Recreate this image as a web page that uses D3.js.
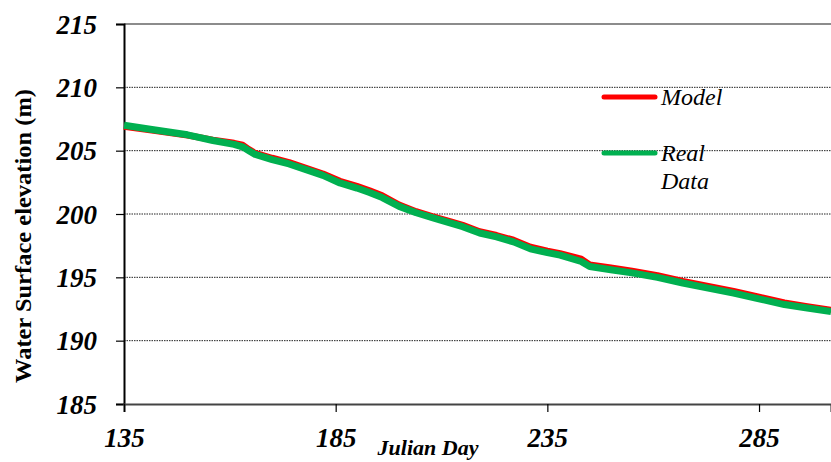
<!DOCTYPE html>
<html>
<head>
<meta charset="utf-8">
<script src="https://cdn.jsdelivr.net/npm/d3@7"></script>
<style>
  html, body { margin: 0; padding: 0; background: #fff; }
  svg { display: block; }
  svg text { font-family: 'Liberation Serif', 'Times New Roman', serif; }
</style>
</head>
<body>
<svg id="chart" width="831" height="462"></svg>
<script>
// Julian day sample points
const days = [135, 142, 150, 156, 161, 163, 164.5, 166, 170, 174, 178, 182, 186, 190, 193, 196, 200, 204, 208, 212, 215, 219, 223, 227, 231, 235, 238, 243, 245, 250, 255, 261, 267, 273, 279, 285, 291, 296, 302];
// Observed water surface elevation (m)
const realData = [207.0, 206.65, 206.25, 205.8, 205.5, 205.3, 205.0, 204.7, 204.3, 203.95, 203.5, 203.05, 202.45, 202.05, 201.7, 201.3, 200.6, 200.1, 199.7, 199.3, 199.0, 198.5, 198.2, 197.8, 197.25, 196.95, 196.75, 196.25, 195.85, 195.6, 195.35, 195.0, 194.55, 194.15, 193.75, 193.3, 192.85, 192.6, 192.3];
// Simulated water surface elevation (m)
const modelData = [206.9, 206.58, 206.22, 205.85, 205.6, 205.45, 205.1, 204.8, 204.42, 204.08, 203.62, 203.18, 202.6, 202.2, 201.85, 201.45, 200.72, 200.2, 199.8, 199.42, 199.12, 198.62, 198.32, 197.95, 197.4, 197.08, 196.88, 196.45, 196.0, 195.75, 195.5, 195.15, 194.7, 194.3, 193.9, 193.45, 193.0, 192.72, 192.42];
const xTicks = [135, 185, 235, 285];
const yTicks = [185, 190, 195, 200, 205, 210, 215];
const seriesNames = ["Model", "Real Data"];

const SERIF = "'Liberation Serif', 'Times New Roman', serif";
const svg = d3.select("#chart");
const plotLeft = 124, plotRight = 831, plotTop = 24, plotBottom = 404;

const x = d3.scaleLinear().domain([135, 302]).range([plotLeft, plotRight]);
const y = d3.scaleLinear().domain([185, 215]).range([plotBottom, plotTop]);

const tickFont = sel => sel
  .attr("fill", "#000")
  .style("font-family", SERIF)
  .style("font-size", "27px").style("font-weight", "bold").style("font-style", "italic");

// Dotted horizontal gridlines
svg.append("g")
  .selectAll("line")
  .data(yTicks.filter(v => v > 185 && v < 215))
  .join("line")
  .attr("x1", plotLeft).attr("x2", plotRight)
  .attr("y1", d => y(d)).attr("y2", d => y(d))
  .attr("stroke", "#222").attr("stroke-width", 1)
  .attr("stroke-dasharray", "1.5,1");

// Top border
svg.append("line")
  .attr("x1", plotLeft).attr("x2", plotRight)
  .attr("y1", plotTop).attr("y2", plotTop)
  .attr("stroke", "#8c8c8c").attr("stroke-width", 2);

// Y axis
const yAxis = svg.append("g")
  .attr("transform", `translate(${plotLeft},0)`)
  .call(d3.axisLeft(y).tickValues(yTicks).tickSize(8).tickPadding(19).tickFormat(d3.format("d")))
  .attr("font-family", null).attr("font-size", null);
yAxis.select(".domain").attr("stroke", "#000").attr("stroke-width", 2);
yAxis.selectAll(".tick line").attr("stroke", "#000").attr("stroke-width", 1.2);
yAxis.selectAll(".tick text").call(tickFont).attr("dy", "0.34em");

// X axis
const xAxis = svg.append("g")
  .attr("transform", `translate(0,${plotBottom})`)
  .call(d3.axisBottom(x).tickValues(xTicks).tickSize(8).tickFormat(d3.format("d")))
  .attr("font-family", null).attr("font-size", null);
xAxis.select(".domain").attr("stroke", "#444").attr("stroke-width", 2.2);
xAxis.selectAll(".tick line").attr("stroke", "#000").attr("stroke-width", 1.2);
xAxis.selectAll(".tick text").call(tickFont).attr("y", 43).attr("dy", 0);

// Series lines
const line = d3.line().x((d, i) => x(days[i])).y(d => y(d));
svg.append("path")
  .datum(modelData)
  .attr("d", line)
  .attr("fill", "none").attr("stroke", "#ff0000")
  .attr("stroke-width", 6.5).attr("stroke-linejoin", "round");
svg.append("path")
  .datum(realData)
  .attr("d", line)
  .attr("fill", "none").attr("stroke", "#00b050")
  .attr("stroke-width", 7).attr("stroke-linejoin", "round");

// Axis titles
svg.append("text")
  .attr("transform", "translate(31,236) rotate(-90)")
  .attr("text-anchor", "middle")
  .attr("textLength", 294).attr("lengthAdjust", "spacingAndGlyphs")
  .style("font-family", SERIF)
  .style("font-size", "23px").style("font-weight", "bold")
  .text("Water Surface elevation (m)");
svg.append("text")
  .attr("x", 428).attr("y", 455)
  .attr("text-anchor", "middle")
  .style("font-family", SERIF)
  .style("font-size", "22px").style("font-weight", "bold").style("font-style", "italic")
  .text("Julian Day");

// Legend
const legend = svg.append("g");
const legendColors = ["#ff0000", "#00b050"];
const legendY = [97, 153];
seriesNames.forEach((name, i) => {
  legend.append("line")
    .attr("x1", 604).attr("x2", 655)
    .attr("y1", legendY[i]).attr("y2", legendY[i])
    .attr("stroke", legendColors[i]).attr("stroke-width", 5)
    .attr("stroke-linecap", "round");
  const t = legend.append("text")
    .attr("x", 661).attr("y", legendY[i] + 8)
    .style("font-family", SERIF)
    .style("font-size", "24px").style("font-style", "italic");
  name.split(" ").forEach((w, j) => {
    t.append("tspan").attr("x", 661).attr("dy", j === 0 ? 0 : 28).text(w);
  });
});
</script>
</body>
</html>
